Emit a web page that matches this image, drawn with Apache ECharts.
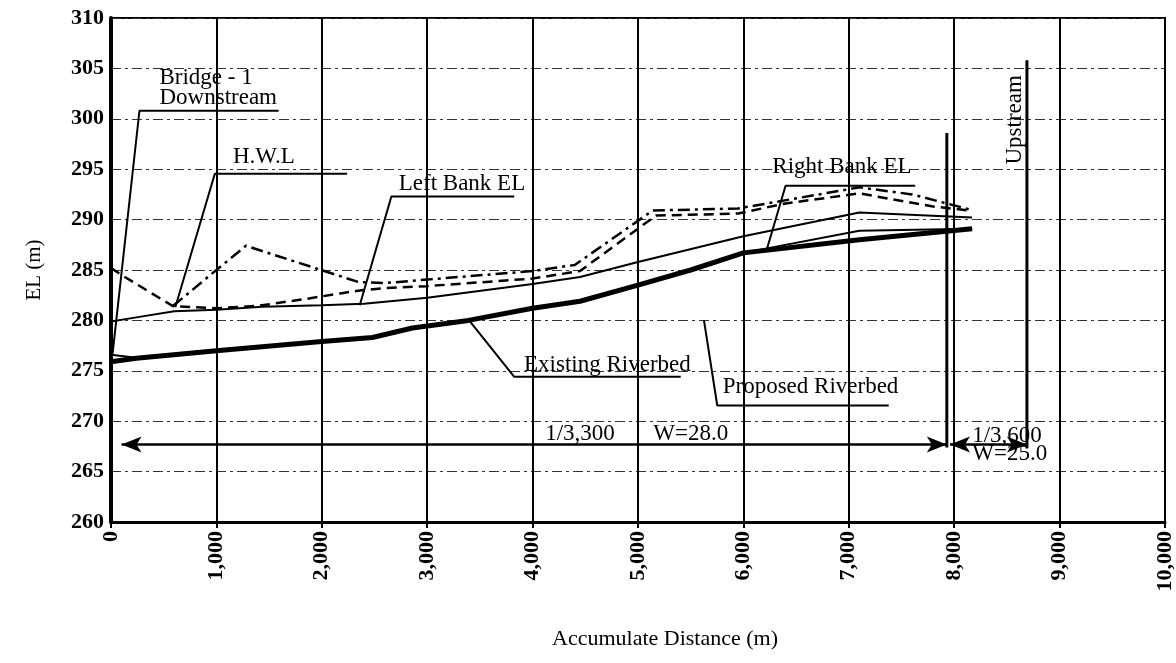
<!DOCTYPE html>
<html><head><meta charset="utf-8">
<script src="https://cdn.jsdelivr.net/npm/echarts@6/dist/echarts.min.js"></script>
<style>html,body{margin:0;padding:0;background:#fff}#c{width:1176px;height:663px}</style>
</head><body><div id="c"></div>
<script>
// ---- tick labels ----
const xTickValues = [0,1000,2000,3000,4000,5000,6000,7000,8000,9000,10000];
const xTickLabels = ['0','1,000','2,000','3,000','4,000','5,000','6,000','7,000','8,000','9,000','10,000'];
const yTickValues = [260,265,270,275,280,285,290,295,300,305,310];
const yTickLabels = ['260','265','270','275','280','285','290','295','300','305','310'];

// ---- series values [distance (m), EL (m)] ----
const existingRiverbed = [[0,275.9],[240,276.25],[1000,277.0],[2000,277.9],[2480,278.3],[2860,279.25],[3390,280.0],[4000,281.2],[4450,281.9],[5000,283.5],[5500,285.0],[6000,286.7],[7100,288.0],[8170,289.1]];
const proposedRiverbed = [[0,276.6],[240,276.3],[1000,277.0],[2000,277.9],[2480,278.3],[2860,279.25],[3390,280.0],[4000,281.2],[4450,281.9],[5000,283.5],[5500,285.0],[6000,286.7],[7100,288.9],[8170,289.1]];
const leftBankEL = [[0,279.9],[270,280.35],[600,280.9],[1000,281.05],[1435,281.35],[2000,281.5],[2400,281.65],[3000,282.25],[4000,283.6],[4450,284.3],[5000,285.8],[6000,288.35],[7100,290.7],[8170,290.2]];
const rightBankEL = [[0,285.2],[100,284.5],[590,281.4],[1000,281.2],[1400,281.45],[1830,282.1],[2190,282.7],[2380,283.0],[2600,283.2],[3000,283.4],[4000,284.15],[4450,284.9],[5170,290.4],[5950,290.6],[6400,291.6],[7100,292.6],[7800,291.3],[8150,290.9]];
const hwl = [[590,281.45],[1000,285.0],[1280,287.4],[2350,283.8],[2600,283.7],[3000,284.05],[4000,284.9],[4400,285.5],[5140,290.9],[5950,291.1],[7100,293.2],[7600,292.5],[8150,291.0]];

// ---- section data ----
const sectionStations = [7930, 8690];          // slope change / upstream end (m)
const slopeLabels = ['1/3,300', 'W=28.0', '1/3,600', 'W=25.0'];

const serif = '"Liberation Serif", "Times New Roman", serif';

function lineSer(name, data, width, type, z) {
  return {type:'line', name, data, symbol:'none', silent:true, z: z || 3,
    lineStyle:{color:'#000', width, type: type || 'solid'}};
}
function leader(data, width) {
  return {type:'line', data, symbol:'none', silent:true, z:5,
    lineStyle:{color:'#000', width: width || 2, type:'solid'}};
}

const chart = echarts.init(document.getElementById('c'));
const option = {
  animation:false,
  backgroundColor:'#fff',
  grid:{left:111, right:10, top:18, bottom:141, show:true, borderColor:'#000', borderWidth:2},
  xAxis:{type:'value', min:0, max:10000, interval:1000,
    axisLine:{show:true, onZero:false, lineStyle:{color:'#000', width:3}},
    axisTick:{show:true, length:6, lineStyle:{color:'#000', width:2}},
    axisLabel:{rotate:90, margin:9, color:'#000', fontFamily:serif, fontSize:22, fontWeight:'bold',
      formatter:v => xTickLabels[xTickValues.indexOf(v)]},
    splitLine:{show:true, lineStyle:{color:'#000', width:2}},
    name:'Accumulate Distance (m)', nameLocation:'middle', nameGap:106,
    nameTextStyle:{color:'#000', fontFamily:serif, fontSize:22, padding:[0,0,0,54]}},
  yAxis:{type:'value', min:260, max:310, interval:5,
    axisLine:{show:true, onZero:false, lineStyle:{color:'#000', width:4}},
    axisTick:{show:false},
    axisLabel:{margin:7, color:'#000', fontFamily:serif, fontSize:22, fontWeight:'bold',
      formatter:v => yTickLabels[yTickValues.indexOf(v)]},
    splitLine:{show:true, lineStyle:{color:'#333', width:1, type:[10,4,3,4]}},
    name:'EL (m)', nameLocation:'middle', nameGap:66, nameRotate:90,
    nameTextStyle:{color:'#000', fontFamily:serif, fontSize:21}},
  series:[
    lineSer('Existing Riverbed', existingRiverbed, 5),
    lineSer('Proposed Riverbed', proposedRiverbed, 2),
    lineSer('Left Bank EL', leftBankEL, 2),
    lineSer('Right Bank EL', rightBankEL, 2.5, [10,6]),
    lineSer('H.W.L', hwl, 2.5, [12,5,3,5]),
    // leaders
    leader([[1590,300.8],[270,300.8],[15,276.7]]),
    leader([[2240,294.55],[985,294.55],[610,281.3]]),
    leader([[3826,292.3],[2660,292.3],[2360,281.5]]),
    leader([[7630,293.35],[6400,293.35],[6224,287.1]]),
    leader([[5405,274.4],[3826,274.4],[3390,280.1]]),
    leader([[7379,271.56],[5752,271.56],[5626,280.0]]),
    leader([[sectionStations[0],298.6],[sectionStations[0],267.4]], 3),
    leader([[sectionStations[1],305.8],[sectionStations[1],267.3]], 3),
    {type:'line', data:[], silent:true, z:6,
      markLine:{silent:true, symbol:['arrow','arrow'], symbolSize:[12,20], label:{show:false},
        lineStyle:{color:'#000', width:2.5, type:'solid'}, animation:false,
        data:[
          [{coord:[100,267.7]},{coord:[sectionStations[0],267.7]}],
          [{coord:[sectionStations[0]+30,267.7]},{coord:[sectionStations[1],267.7]}]
        ]}}
  ]
};
chart.setOption(option);

const annos = [
  {t:'Bridge - 1', x:460, y:304.1, align:'left'},
  {t:'Downstream', x:460, y:302.05, align:'left'},
  {t:'H.W.L', x:1450, y:296.2},
  {t:'Left Bank EL', x:3330, y:293.5},
  {t:'Right Bank EL', x:6935, y:295.2},
  {t:'Existing Riverbed', x:4710, y:275.56},
  {t:'Proposed Riverbed', x:6637, y:273.44},
  {t:slopeLabels[0], x:4450, y:268.7},
  {t:slopeLabels[1], x:5500, y:268.7},
  {t:slopeLabels[2], x:8171, y:268.5, align:'left'},
  {t:slopeLabels[3], x:8171, y:266.8, align:'left'},
  {t:'Upstream', x:8580, y:299.9, rot:Math.PI/2}
];
const graphics = annos.map(a => {
  const p = chart.convertToPixel({gridIndex:0}, [a.x, a.y]);
  return {type:'text', x:p[0], y:p[1], rotation:a.rot || 0, z:10, silent:true,
    style:{text:a.t, fill:'#000', font:'23px ' + serif, align:a.align || 'center', verticalAlign:'middle'}};
});
chart.setOption({graphic:graphics});
</script>
</body></html>
